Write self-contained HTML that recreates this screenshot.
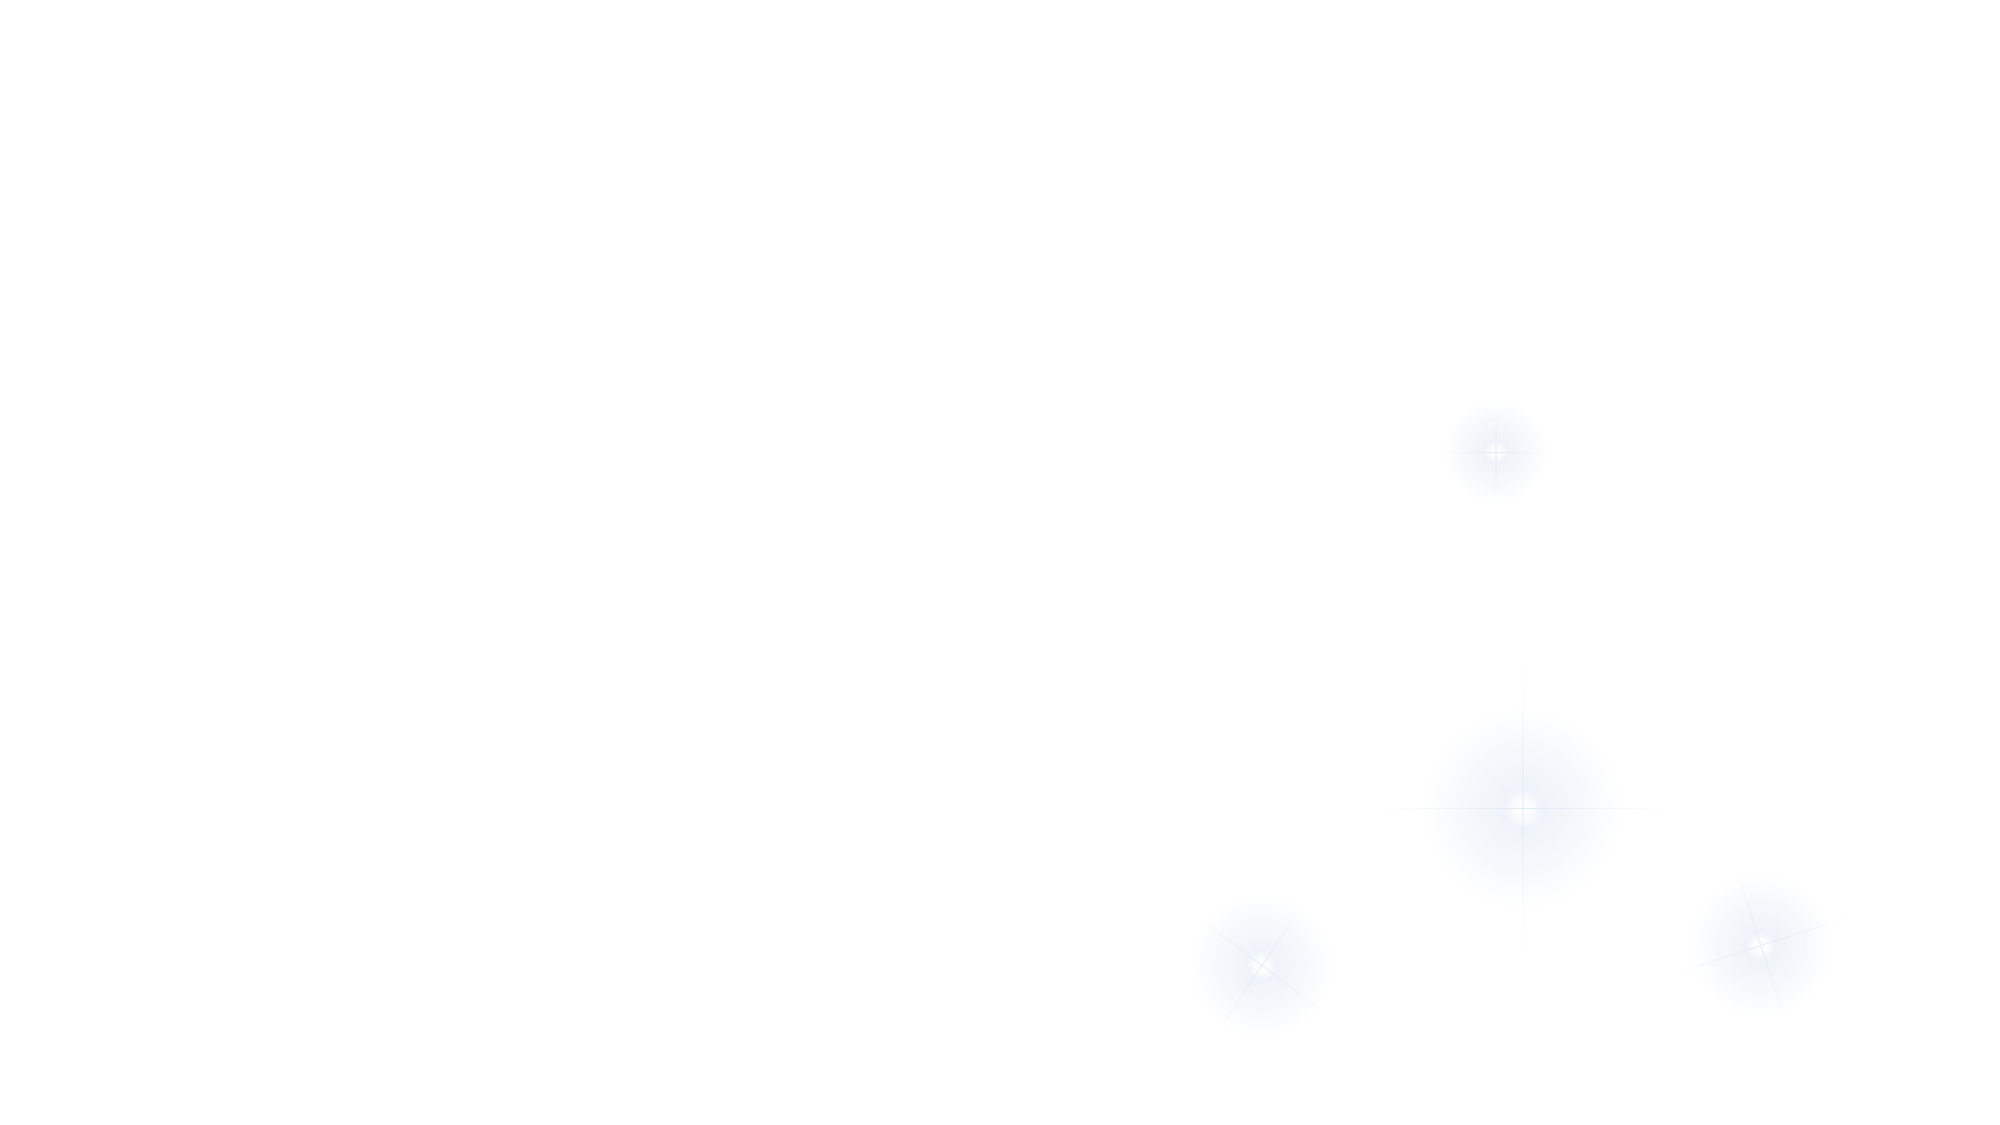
<!DOCTYPE html>
<html><head><meta charset="utf-8"><style>
html,body{margin:0;padding:0;width:2000px;height:1125px;background:#fff;overflow:hidden;position:relative}
.g{position:absolute;border-radius:50%;background:radial-gradient(circle,rgba(232,239,247,0.85) 0%,rgba(238,243,250,0.55) 40%,rgba(255,255,255,0) 68%)}
.c{position:absolute;border-radius:50%;background:radial-gradient(circle,#fff 0%,rgba(255,255,255,0.8) 30%,rgba(255,255,255,0) 70%)}
.r{position:absolute;background:linear-gradient(90deg,rgba(235,240,247,0),rgba(222,230,241,0.8),rgba(235,240,247,0));height:1px}
</style></head><body>
<div class="g" style="left:1441px;top:397px;width:110px;height:110px"></div>
<div class="c" style="left:1484px;top:440px;width:24px;height:24px"></div>
<div class="r" style="left:1446px;top:452px;width:100px"></div>
<div class="r" style="left:1446px;top:452px;width:100px;transform:rotate(90deg)"></div>

<div class="g" style="left:1418px;top:704px;width:210px;height:210px"></div>
<div class="c" style="left:1503px;top:789px;width:40px;height:40px"></div>
<div class="r" style="left:1373px;top:808px;width:300px"></div>
<div class="r" style="left:1373px;top:808px;width:300px;transform:rotate(90deg)"></div>

<div class="g" style="left:1187px;top:891px;width:150px;height:150px"></div>
<div class="c" style="left:1247px;top:951px;width:30px;height:30px"></div>
<div class="r" style="left:1182px;top:965px;width:160px;transform:rotate(37deg)"></div>
<div class="r" style="left:1182px;top:965px;width:160px;transform:rotate(-56deg)"></div>

<div class="g" style="left:1686px;top:871px;width:150px;height:150px"></div>
<div class="c" style="left:1746px;top:931px;width:30px;height:30px"></div>
<div class="r" style="left:1661px;top:945px;width:200px;transform:rotate(-18deg)"></div>
<div class="r" style="left:1681px;top:945px;width:160px;transform:rotate(72deg)"></div>
</body></html>
